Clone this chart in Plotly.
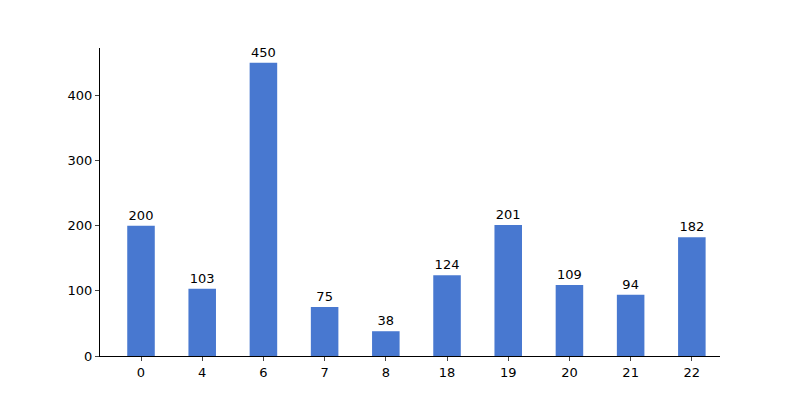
import plotly.graph_objects as go

categories = ["0", "4", "6", "7", "8", "18", "19", "20", "21", "22"]
counts = [200, 103, 450, 75, 38, 124, 201, 109, 94, 182]

fig = go.Figure(go.Bar(
    x=list(range(len(categories))), y=counts, width=0.45,
    marker_color="#4878d0", marker_line_width=0,
    text=counts, textposition="outside",
    textfont=dict(color="black", size=13), cliponaxis=False,
))
fig.update_layout(
    width=800, height=400, margin=dict(l=92, r=88, t=40, b=52),
    plot_bgcolor="white", paper_bgcolor="white",
    font=dict(family="DejaVu Sans", size=13, color="black"),
    showlegend=False,
)
fig.update_xaxes(tickmode="array", tickvals=list(range(len(categories))),
                 ticktext=categories, range=[-0.67, 9.46],
                 showline=True, linecolor="black", ticks="outside",
                 ticklen=4, showgrid=False, zeroline=False)
fig.update_yaxes(range=[0, 472.5], dtick=100, showline=True, linecolor="black",
                 ticks="outside", ticklen=4, showgrid=False, zeroline=False)
fig.write_html("out.html")
